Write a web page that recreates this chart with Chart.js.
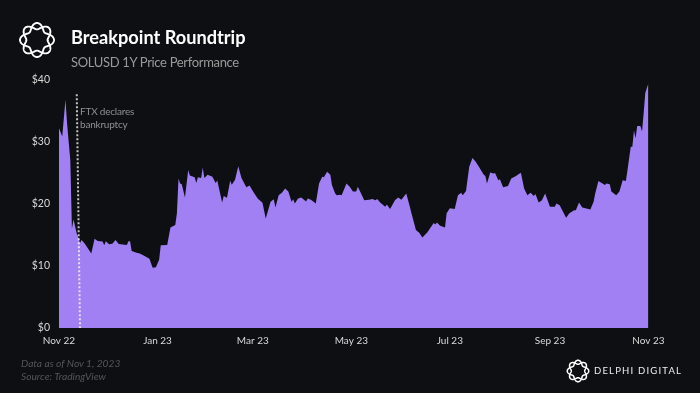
<!DOCTYPE html>
<html>
<head>
<meta charset="utf-8">
<title>Breakpoint Roundtrip</title>
<script src="https://cdn.jsdelivr.net/npm/chart.js@4"></script>
<style>
    html, body { margin: 0; padding: 0; background: #0d0f12; }
    #wrap { position: relative; width: 700px; height: 393px; overflow: hidden; font-family: Lato, sans-serif; }
    #wrap canvas { position: absolute; left: 0; top: 0; }
    .txt { position: absolute; white-space: nowrap; line-height: 1; }
    #title { left: 71px; top: 28px; font-size: 18.2px; font-weight: 700; color: #fff; }
    #subtitle { left: 71px; top: 56px; font-size: 13px; letter-spacing: -0.33px; color: #9a9a9a; }
    #ftx1 { left: 80px; top: 106px; font-size: 10px; letter-spacing: -0.2px; color: #8f8f8f; }
    #ftx2 { left: 80px; top: 119px; font-size: 10px; letter-spacing: -0.2px; color: #8f8f8f; }
    #note1 { left: 21px; top: 358px; font-size: 10.2px; font-style: italic; color: #555; }
    #note2 { left: 21px; top: 371px; font-size: 10.2px; font-style: italic; color: #555; }
    #brand { left: 594px; top: 366px; font-size: 9.5px; letter-spacing: 1.2px; color: #eee; }
    svg.logo { position: absolute; fill: none; stroke: #fff; }
</style>
</head>
<body>
<div id="wrap">
    <canvas id="chart" width="700" height="393"></canvas>
    <svg class="logo" id="logoTop" style="left:18px;top:21px" width="38" height="38" viewBox="-19 -19 38 38" stroke-width="1.9"></svg>
    <svg class="logo" id="logoBottom" style="left:566px;top:359px" width="24" height="24" viewBox="-19 -19 38 38" stroke-width="2.4"></svg>
    <div class="txt" id="title">Breakpoint Roundtrip</div>
    <div class="txt" id="subtitle">SOLUSD 1Y Price Performance</div>
    <div class="txt" id="ftx1">FTX declares</div>
    <div class="txt" id="ftx2">bankruptcy</div>
    <div class="txt" id="note1">Data as of Nov 1, 2023</div>
    <div class="txt" id="note2">Source: TradingView</div>
    <div class="txt" id="brand">DELPHI DIGITAL</div>
</div>
<script>
// days since Nov 1 2022
const days = [0, 2, 4, 5, 6, 7, 8, 9, 11, 12, 13, 14, 16, 20, 22, 24, 27, 28, 29, 31, 33, 35, 37, 42, 43, 44, 45, 48, 50, 53, 56, 58, 60, 62, 63, 67, 69, 72, 73, 74, 75, 76, 78, 80, 81, 84, 85, 86, 88, 89, 90, 92, 95, 97, 98, 101, 102, 104, 106, 107, 109, 111, 113, 116, 118, 120, 123, 126, 128, 131, 133, 134, 136, 138, 140, 142, 144, 145, 146, 148, 150, 153, 154, 156, 159, 161, 163, 164, 166, 168, 169, 171, 172, 174, 175, 178, 180, 182, 184, 185, 188, 189, 192, 194, 196, 197, 199, 202, 203, 205, 208, 210, 212, 215, 217, 218, 221, 223, 225, 228, 232, 233, 234, 236, 239, 240, 242, 245, 247, 249, 250, 252, 254, 256, 258, 260, 263, 264, 265, 267, 269, 270, 272, 273, 275, 278, 280, 283, 284, 286, 288, 290, 292, 294, 295, 297, 299, 301, 304, 307, 308, 310, 314, 316, 319, 320, 322, 324, 329, 331, 332, 334, 336, 338, 339, 341, 342, 345, 347, 349, 351, 352, 354, 355, 356, 357, 358, 360, 361, 362, 363, 365];
const prices = [32.2, 30.9, 36.8, 33, 30, 27.1, 16, 17.5, 15.2, 14.6, 13.7, 14.2, 13.6, 12, 14.4, 14.05, 13.95, 13.35, 14, 13.5, 13.6, 14.2, 13.55, 13.4, 14, 14, 12.4, 12.15, 12, 11.6, 11.15, 9.7, 9.8, 11, 13.35, 13.4, 16.2, 16.6, 18.5, 24.1, 23.3, 23.2, 21.05, 25.5, 24.6, 24.3, 23.4, 24.3, 24.2, 25.9, 24.2, 24.7, 24.4, 23.4, 23.8, 20.25, 21.3, 21, 23.75, 23.1, 23.9, 26.1, 24.2, 22.7, 23, 22.1, 20.9, 20.2, 17.65, 20.35, 20.75, 19.45, 21.4, 21.8, 22.5, 22, 20.35, 20.75, 20.1, 20.9, 21.05, 20.4, 20.9, 20.7, 20.1, 23.3, 24.4, 24.3, 25.2, 24.7, 23.05, 21.7, 21.4, 21.5, 21.4, 23.3, 22.8, 22, 22, 22.8, 21.15, 20.6, 20.7, 20.8, 20.6, 20.8, 20.2, 19.55, 19.9, 19.2, 20.6, 21.05, 20.7, 21.7, 19.8, 18.75, 15.8, 15.35, 14.6, 15.4, 16.95, 16.7, 17, 16.5, 16.2, 18.5, 19.3, 19.2, 21.4, 21.8, 21.4, 22.1, 26, 27.4, 26.8, 26, 24.7, 24.5, 23.3, 25.1, 24.9, 25, 23.85, 24, 22.7, 22.9, 24.1, 24.5, 24.7, 25.05, 22.5, 21.4, 21.8, 21.3, 21.6, 20.25, 20.6, 21.7, 19.55, 19.55, 20.1, 19.8, 17.8, 18.5, 19, 19, 20.25, 19.45, 19.1, 20.35, 21.7, 23.7, 23.4, 23.05, 23.3, 23.2, 22, 21.4, 22, 23.85, 23.7, 25.5, 29.25, 29.25, 31.85, 30.6, 32.6, 32.6, 31.7, 34.65, 37.9, 39.5];

const tickDays = [0, 61, 120, 181, 242, 304, 365];
const tickLabels = ["Nov 22", "Jan 23", "Mar 23", "May 23", "Jul 23", "Sep 23", "Nov 23"];
const yTicks = [0, 10, 20, 30, 40];

// FTX marker, it leans a little in the source
const ftxDays = [11, 13];
const ftxLevels = [37.7, 0];

function buildLogo(id) {
    const svg = document.getElementById(id);
    [1, -1].forEach(function (sign) {
        const pts = [];
        for (let i = 0; i <= 240; i++) {
            const t = (i / 240) * Math.PI * 2;
            const r = 13.8 + sign * 3.2 * Math.cos(4 * t);
            pts.push((r * Math.cos(t)).toFixed(2) + "," + (r * Math.sin(t)).toFixed(2));
        }
        const path = document.createElementNS("http://www.w3.org/2000/svg", "polygon");
        path.setAttribute("points", pts.join(" "));
        svg.appendChild(path);
    });
}

buildLogo("logoTop");
buildLogo("logoBottom");

new Chart(document.getElementById("chart"), {
    type: "line",
    data: {
        datasets: [
            {
                label: "FTX",
                data: ftxDays.map((d, i) => ({ x: d, y: ftxLevels[i] })),
                borderColor: "rgba(255,255,255,0.75)",
                borderWidth: 2,
                borderDash: [2, 2],
                pointRadius: 0,
                fill: false,
            },
            {
                label: "SOLUSD",
                data: days.map((d, i) => ({ x: d, y: prices[i] })),
                borderWidth: 0,
                backgroundColor: "#a080f2",
                pointRadius: 0,
                tension: 0,
                fill: "origin",
            },
        ],
    },
    options: {
        responsive: false,
        animation: false,
        layout: { padding: { top: 80, right: 51.5, bottom: 0, left: 0 } },
        plugins: { legend: { display: false }, tooltip: { enabled: false } },
        scales: {
            x: {
                type: "linear",
                min: 0,
                max: 365,
                grid: { display: false, drawTicks: false },
                border: { display: false },
                afterBuildTicks: function (scale) {
                    scale.ticks = tickDays.map((v) => ({ value: v }));
                },
                afterFit: function (scale) {
                    scale.height = 65;
                },
                ticks: {
                    autoSkip: false,
                    maxRotation: 0,
                    minRotation: 0,
                    padding: 7,
                    color: "#d9d9d9",
                    font: { family: "Lato", size: 10 },
                    callback: (v) => tickLabels[tickDays.indexOf(v)],
                },
            },
            y: {
                min: 0,
                max: 40,
                grid: { display: false, drawTicks: false },
                border: { display: false },
                afterBuildTicks: function (scale) {
                    scale.ticks = yTicks.map((v) => ({ value: v }));
                },
                afterFit: function (scale) {
                    scale.width = 59;
                },
                ticks: {
                    padding: 9,
                    color: "#d9d9d9",
                    font: { family: "Lato", size: 10.5 },
                    callback: (v) => "$" + v,
                },
            },
        },
    },
});
</script>
</body>
</html>
